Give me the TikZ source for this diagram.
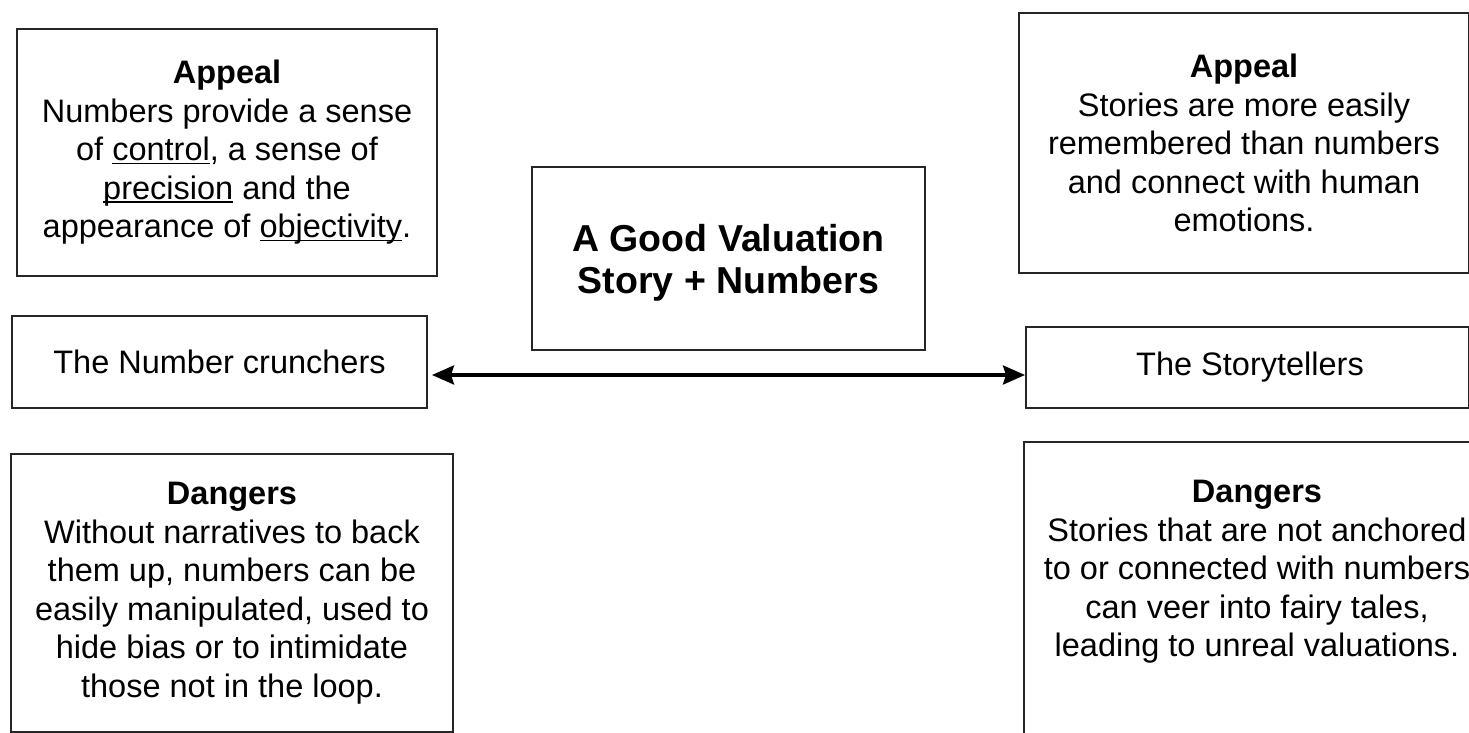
\documentclass[tikz,border=0pt]{standalone}
\usepackage{fontspec}
\setmainfont{Liberation Sans}
\usetikzlibrary{arrows.meta}
\newcommand\myul[1]{\setbox0\hbox{#1}\rlap{\rule[-3.5pt]{\wd0}{1.6pt}}\box0\relax}
\tikzset{
  box/.style={draw=black!85, line width=2pt, rectangle, inner sep=0pt, align=center,
    font=\fontsize{32.5}{38.5}\selectfont},
  body/.style={align=center, inner sep=0pt, font=\fontsize{32.5}{38.5}\selectfont},
  title/.style={draw=black!85, line width=2pt, rectangle, inner sep=0pt, align=center,
    font=\bfseries\fontsize{37.5}{42}\selectfont},
  link/.style={line width=3.5pt, {Stealth[length=22pt,width=19pt,inset=3pt]}-{Stealth[length=22pt,width=19pt,inset=3pt]}}
}
\begin{document}
\begin{tikzpicture}[x=1pt,y=-1pt]
\useasboundingbox (0,0) rectangle (1469,733);
% left column
\node[box, minimum width=420, minimum height=247] (la) at (227,152.5)
  {\textbf{Appeal}\\Numbers provide a sense\\of \myul{control}, a sense of\\\myul{precision} and the\\appearance of \myul{objectivity}.};
\node[box, minimum width=415, minimum height=92] (nc) at (219.5,362) {The Number crunchers};
\node[box, minimum width=442, minimum height=278] (ld) at (232,593)
  {\textbf{Dangers}\\Without narratives to back\\them up, numbers can be\\easily manipulated, used to\\hide bias or to intimidate\\those not in the loop.};
% centre
\node[box, minimum width=393, minimum height=183] (c) at (728.5,258.5) {};
\node[body, font=\bfseries\fontsize{37.5}{42}\selectfont] (ct) at (728.5,263) {A Good Valuation\\Story + Numbers};
% right column
\node[box, minimum width=450, minimum height=260] (ra) at (1244,143)
  {\textbf{Appeal}\\Stories are more easily\\remembered than numbers\\and connect with human\\emotions.};
\node[box, minimum width=443, minimum height=81] (st) at (1247.5,367) {};
\node[body] (stt) at (1250,367) {The Storytellers};
\node[box, minimum width=466, minimum height=340] (rd) at (1257,612) {};
\node[body] (rdt) at (1257,572)
  {\textbf{Dangers}\\Stories that are not anchored\\to or connected with numbers\\can veer into fairy tales,\\leading to unreal valuations.};
% connector
\coordinate (a1) at ([xshift=4pt,yshift=-13pt]nc.east);
\draw[link] (a1) -- (a1 -| st.west);
\end{tikzpicture}
\end{document}
